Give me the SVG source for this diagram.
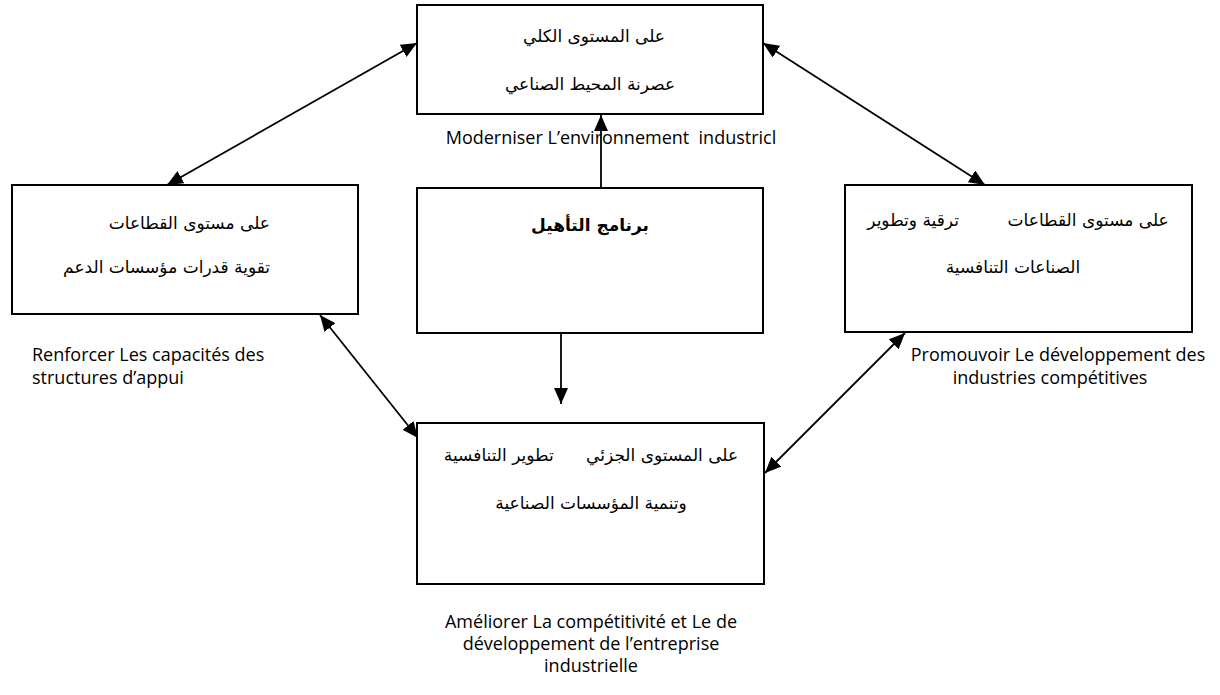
<svg xmlns="http://www.w3.org/2000/svg" width="1220" height="695" viewBox="0 0 1220 695">
<style>
.box{fill:#fff;stroke:#000;stroke-width:2}
.ar{font-family:"DejaVu Sans",serif;font-size:17px;fill:#000}
.arb{font-family:"DejaVu Sans",serif;font-size:17px;font-weight:bold;fill:#000}
.fr{font-family:"Open Sans","Liberation Sans",sans-serif;font-size:18px;fill:#000}
.con{stroke:#000;stroke-width:1.8;fill:none}
</style>
<defs>
<marker id="ah" viewBox="0 0 16 14" refX="16" refY="7" markerWidth="16" markerHeight="14" markerUnits="userSpaceOnUse" orient="auto-start-reverse">
<path d="M0,0 L16,7 L0,14 z" fill="#000"/>
</marker>
</defs>
<rect width="1220" height="695" fill="#fff"/>
<g id="connectors">
<line class="con" x1="601" y1="188" x2="601" y2="115" marker-end="url(#ah)"/>
<line class="con" x1="561" y1="333" x2="561" y2="404" marker-end="url(#ah)"/>
<line class="con" x1="167" y1="185" x2="417" y2="43" marker-start="url(#ah)" marker-end="url(#ah)"/>
<line class="con" x1="763" y1="43" x2="985" y2="185" marker-start="url(#ah)" marker-end="url(#ah)"/>
<line class="con" x1="320" y1="315" x2="418" y2="438" marker-start="url(#ah)" marker-end="url(#ah)"/>
<line class="con" x1="765" y1="473" x2="905" y2="333" marker-start="url(#ah)" marker-end="url(#ah)"/>
</g>
<g id="node-macro">
<rect class="box" x="417" y="5" width="346" height="109"/>
<text class="ar" x="594" y="42" text-anchor="middle">على المستوى الكلي</text>
<text class="ar" x="590" y="90" text-anchor="middle">عصرنة المحيط الصناعي</text>
</g>
<g id="label-macro">
<text class="fr" x="611" y="144" text-anchor="middle" xml:space="preserve">Moderniser L’environnement  industricl</text>
</g>
<g id="node-program">
<rect class="box" x="417" y="188" width="346" height="145"/>
<text class="arb" x="590" y="231" text-anchor="middle">برنامج التأهيل</text>
</g>
<g id="node-sectors-left">
<rect class="box" x="12" y="185" width="346" height="129"/>
<text class="ar" x="270" y="229" text-anchor="end">على مستوى القطاعات</text>
<text class="ar" x="270" y="273" text-anchor="end">تقوية قدرات مؤسسات الدعم</text>
</g>
<g id="label-left">
<text class="fr" x="32" y="361">Renforcer Les capacités des</text>
<text class="fr" x="32" y="384">structures d’appui</text>
</g>
<g id="node-sectors-right">
<rect class="box" x="845" y="185" width="347" height="147"/>
<text class="ar" x="1018" y="226" text-anchor="middle" xml:space="preserve">على مستوى القطاعات         ترقية وتطوير</text>
<text class="ar" x="1013" y="273" text-anchor="middle">الصناعات التنافسية</text>
</g>
<g id="label-right">
<text class="fr" x="1058" y="361" text-anchor="middle">Promouvoir Le développement des</text>
<text class="fr" x="1050" y="384" text-anchor="middle">industries compétitives</text>
</g>
<g id="node-micro">
<rect class="box" x="417" y="423" width="347" height="161"/>
<text class="ar" x="591" y="461" text-anchor="middle" xml:space="preserve">على المستوى الجزئي      تطوير التنافسية</text>
<text class="ar" x="591" y="509" text-anchor="middle">وتنمية المؤسسات الصناعية</text>
</g>
<g id="label-micro">
<text class="fr" x="591" y="628" text-anchor="middle">Améliorer La compétitivité et Le de</text>
<text class="fr" x="591" y="650" text-anchor="middle">développement de l’entreprise</text>
<text class="fr" x="591" y="672" text-anchor="middle">industrielle</text>
</g>
</svg>
